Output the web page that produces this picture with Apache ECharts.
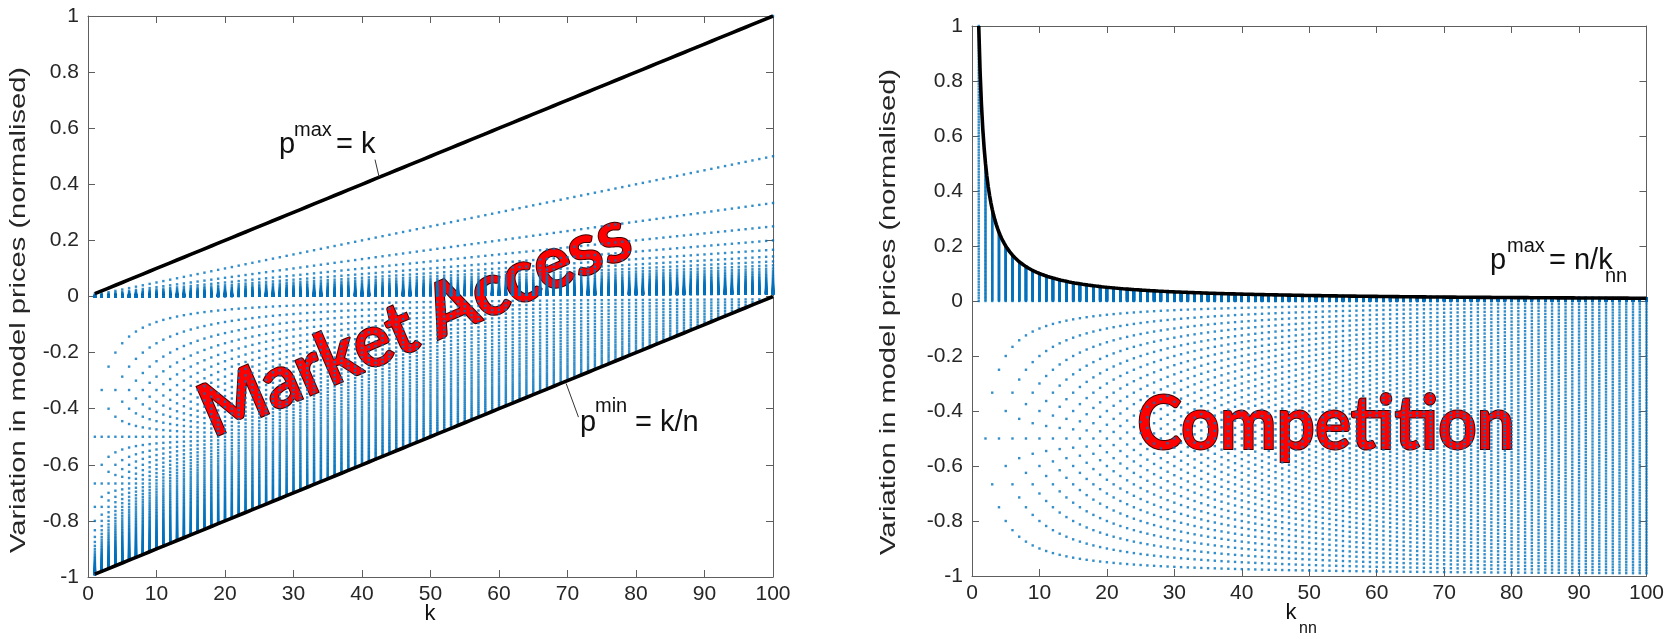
<!DOCTYPE html>
<html>
<head>
<meta charset="utf-8">
<script src="https://cdn.jsdelivr.net/npm/echarts@6/dist/echarts.min.js"></script>
<style>
  html, body { margin: 0; padding: 0; background: #fff; }
  #chart { width: 1667px; height: 639px; }
</style>
</head>
<body>
<div id="chart"></div>
<script>
// model size (number of nodes) and the degrees plotted on x
const n = 100
const kValues = Array.from({ length: n }, (_, i) => i + 1)

// axis ticks
const xTicks = [0, 10, 20, 30, 40, 50, 60, 70, 80, 90, 100]
const yTicks = [-1, -0.8, -0.6, -0.4, -0.2, 0, 0.2, 0.4, 0.6, 0.8, 1]
const yTickLabels = ['-1', '-0.8', '-0.6', '-0.4', '-0.2', '0', '0.2', '0.4', '0.6', '0.8', '1']

// texts
const yName = 'Variation in model prices (normalised)'
const leftTitle = 'Market Access'
const rightTitle = 'Competition'

// model price sets (the dots): left = market access, right = competition
const accessDots = []
kValues.forEach(k => {
  for (let m = 1; m <= n; m++) accessDots.push([k, k / (n * m)])
  for (let m = k + 1; m <= n; m++) accessDots.push([k, k / m - 1])
})
const competitionDots = []
kValues.forEach(k => {
  for (let j = 0; j <= n; j++) competitionDots.push([k, j / (n * k)])
  for (let j = 1; j < k; j++) competitionDots.push([k, -j / k])
})

// bounds (the p^max = n/k_nn curve is drawn as a continuous function)
const pMaxAccess = kValues.map(k => [k, k / n])
const pMinAccess = kValues.map(k => [k, k / n - 1])
const curveK = Array.from({ length: 496 }, (_, i) => 1 + i * 0.2)
const pMaxCompetition = curveK.map(k => [k, 1 / k])

// leader lines for the labels, in data units
const leaderMax = [[41.9, 0.488], [42.5, 0.426]]
const leaderMin = [[69.8, -0.31], [71.6, -0.43]]

const BLUE = '#0072BD'
const AXIS = '#5e5e5e'
const TXT = '#262626'
const FONT = '"Liberation Sans", Arial, sans-serif'

const measure = (str, font) => {
  const ctx = document.createElement('canvas').getContext('2d')
  ctx.font = font
  return ctx.measureText(str).width
}

const chart = echarts.init(document.getElementById('chart'))

const xAxisBase = (grid, labels) => ({
  type: 'value', gridIndex: grid, min: 0, max: 100, interval: 10,
  position: labels ? 'bottom' : 'top',
  axisLine: { show: true, onZero: false, lineStyle: { color: AXIS, width: 1 } },
  axisTick: { show: true, inside: true, length: 7, customValues: xTicks, lineStyle: { color: AXIS } },
  axisLabel: { show: labels, customValues: xTicks, margin: 7, fontSize: 21, fontFamily: FONT, color: TXT },
  splitLine: { show: false }
})
const yAxisBase = (grid, labels) => ({
  type: 'value', gridIndex: grid, min: -1, max: 1, interval: 0.2,
  position: labels ? 'left' : 'right',
  axisLine: { show: true, onZero: false, lineStyle: { color: AXIS, width: 1 } },
  axisTick: { show: true, inside: true, length: 7, customValues: yTicks, lineStyle: { color: AXIS } },
  axisLabel: {
    show: labels, customValues: yTicks, margin: 9, fontSize: 21, fontFamily: FONT, color: TXT,
    formatter: v => {
      let best = 0
      yTicks.forEach((t, i) => { if (Math.abs(t - v) < Math.abs(yTicks[best] - v)) best = i })
      return yTickLabels[best]
    }
  },
  splitLine: { show: false }
})

const dotSeries = (data, axis) => ({
  type: 'scatter', data, xAxisIndex: axis, yAxisIndex: axis,
  symbol: 'circle', symbolSize: 2.4, large: true, largeThreshold: 100,
  progressive: 0, itemStyle: { color: BLUE }, silent: true, z: 2
})
const blackLine = (data, axis) => ({
  type: 'line', data, xAxisIndex: axis, yAxisIndex: axis,
  showSymbol: false, smooth: false,
  lineStyle: { color: '#000', width: 3.6 }, z: 5, silent: true
})
const leader = (data) => ({
  type: 'line', data, xAxisIndex: 0, yAxisIndex: 0, showSymbol: false,
  lineStyle: { color: '#333', width: 1 }, z: 6, silent: true
})

// text piece helper, positioned by baseline
const piece = (text, x, baseline, size, align) => ({
  type: 'text', x, y: baseline - 0.35 * size, z: 100,
  style: { text, fontSize: size, fontFamily: FONT, fill: '#111', align: align || 'left', verticalAlign: 'middle' }
})

const yNameFont = '22px ' + FONT
const yNameScale = 486 / measure(yName, yNameFont)
const yNameText = (x, y) => ({
  type: 'text', x, y, rotation: Math.PI / 2, scaleX: yNameScale, z: 100,
  style: { text: yName, font: yNameFont, fill: TXT, align: 'center', verticalAlign: 'middle' }
})

const bigFont = 'bold 74px Lato, "Open Sans", sans-serif'
const bigText = (text, x, y, len, rot) => ({
  type: 'text', x, y, rotation: rot, scaleX: len / measure(text, bigFont), z: 100,
  style: { text, font: bigFont, fill: '#ff0000', stroke: '#3a0000', lineWidth: 2, align: 'center', verticalAlign: 'middle' }
})

chart.setOption({
  animation: false,
  grid: [
    { left: 88, top: 16, width: 685, height: 561 },
    { left: 972, top: 26, width: 676, height: 550 }
  ],
  xAxis: [xAxisBase(0, true), xAxisBase(0, false), xAxisBase(1, true), xAxisBase(1, false)],
  yAxis: [yAxisBase(0, true), yAxisBase(0, false), yAxisBase(1, true), yAxisBase(1, false)],
  series: [
    dotSeries(accessDots, 0),
    blackLine(pMaxAccess, 0),
    blackLine(pMinAccess, 0),
    leader(leaderMax),
    leader(leaderMin),
    dotSeries(competitionDots, 2),
    blackLine(pMaxCompetition, 2)
  ],
  graphic: [
    yNameText(19, 310),
    yNameText(889, 312),
    // x names
    piece('k', 430, 622, 22, 'center'),
    piece('k', 1291, 621, 22, 'center'),
    piece('nn', 1299, 634, 16),
    // p^max = k
    piece('p', 279, 155, 29),
    piece('max', 294, 137, 20),
    piece('= k', 336, 155, 29),
    // p^min = k/n
    piece('p', 580, 433, 29),
    piece('min', 595, 413, 20),
    piece('= k/n', 635, 433, 29),
    // p^max = n/k_nn
    piece('p', 1490, 271, 29),
    piece('max', 1507, 253, 20),
    piece('= n/k', 1549, 271, 29),
    piece('nn', 1605, 283, 20),
    // headline labels
    bigText(leftTitle, 415, 324, 462, 23.5 * Math.PI / 180),
    bigText(rightTitle, 1326, 425, 378, 0)
  ]
})
</script>
</body>
</html>
